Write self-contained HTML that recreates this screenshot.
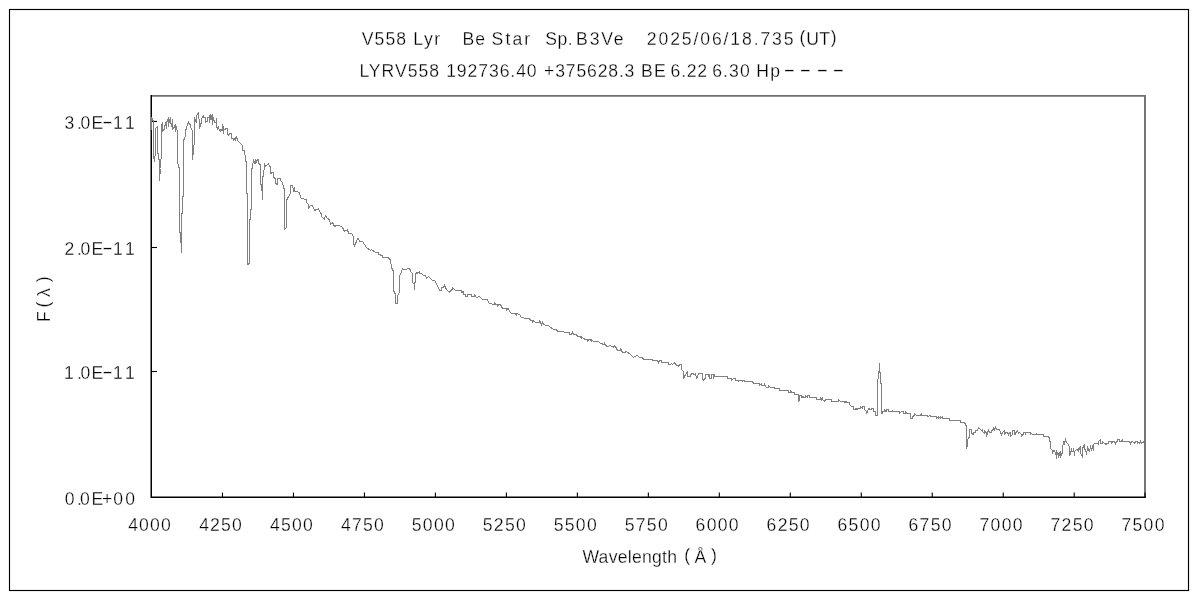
<!DOCTYPE html>
<html lang="en"><head><meta charset="utf-8"><title>V558 Lyr spectrum</title>
<style>
html,body{margin:0;padding:0;background:#fff;overflow:hidden}
svg{display:block}
text{font-family:"Liberation Sans","IPAGothic",sans-serif;fill:#000;font-size:17.6px}
</style></head><body>
<svg width="1200" height="600" viewBox="0 0 1200 600">
<rect x="0" y="0" width="1200" height="600" fill="#fff"/>
<rect x="9.5" y="9.5" width="1179" height="581" fill="none" stroke="#000" stroke-width="1.15"/>
<path d="M151.3 95.95 H1146" fill="none" stroke="#707070" stroke-width="1.7"/>
<path d="M1145 95.1 V497.2" fill="none" stroke="#757575" stroke-width="2"/>
<path d="M151.25 95.1 V497.25 H1145.9" fill="none" stroke="#000" stroke-width="1.5"/>
<g fill="none" stroke="#000" stroke-width="1.1"><path d="M151.3 121.45 h5.7"/><path d="M151.3 247.5 h5.7"/><path d="M151.3 371.5 h5.7"/><path d="M222.48 497.2 v-4.6"/><path d="M293.46 497.2 v-4.6"/><path d="M364.44 497.2 v-4.6"/><path d="M435.41 497.2 v-4.6"/><path d="M506.39 497.2 v-4.6"/><path d="M577.37 497.2 v-4.6"/><path d="M648.35 497.2 v-4.6"/><path d="M719.33 497.2 v-4.6"/><path d="M790.31 497.2 v-4.6"/><path d="M861.29 497.2 v-4.6"/><path d="M932.26 497.2 v-4.6"/><path d="M1003.24 497.2 v-4.6"/><path d="M1074.22 497.2 v-4.6"/><path d="M1145 497.2 v-4.6"/></g>
<polyline fill="none" stroke="#808080" stroke-width="1" shape-rendering="crispEdges" stroke-linejoin="miter" points="151.5,129.5 151.5,117.5 152.5,119.5 153.5,121.5 153.5,155.5 154.5,161.5 155.5,150.5 155.5,128.5 157.5,126.5 157.5,150.5 159.5,162.5 159.5,180.5 160.5,168.5 161.5,150.5 161.5,125.5 162.5,122.5 162.5,131.5 163.5,129.5 164.5,129.5 164.5,126.5 165.5,123.5 166.5,128.5 166.5,121.5 167.5,121.5 168.5,117.5 168.5,126.5 169.5,120.5 170.5,117.5 170.5,123.5 171.5,124.5 171.5,126.5 172.5,119.5 172.5,129.5 173.5,128.5 174.5,126.5 175.5,124.5 175.5,131.5 176.5,126.5 176.5,129.5 177.5,130.5 177.5,159.5 178.5,167.5 179.5,167.5 179.5,232.5 180.5,232.5 180.5,242.5 181.5,242.5 181.5,252.5 181.5,213.5 182.5,213.5 182.5,196.5 183.5,196.5 183.5,140.5 184.5,138.5 185.5,135.5 185.5,131.5 186.5,127.5 187.5,124.5 188.5,122.5 189.5,124.5 190.5,124.5 190.5,127.5 191.5,128.5 191.5,129.5 192.5,130.5 192.5,159.5 193.5,150.5 194.5,140.5 194.5,117.5 195.5,120.5 196.5,122.5 196.5,115.5 197.5,114.5 198.5,112.5 198.5,118.5 199.5,119.5 199.5,128.5 200.5,124.5 201.5,122.5 201.5,118.5 202.5,117.5 203.5,115.5 203.5,117.5 205.5,117.5 205.5,122.5 206.5,121.5 207.5,121.5 207.5,117.5 209.5,117.5 209.5,122.5 209.5,115.5 210.5,114.5 210.5,119.5 211.5,119.5 211.5,116.5 212.5,114.5 212.5,124.5 213.5,117.5 213.5,119.5 214.5,120.5 214.5,122.5 216.5,122.5 216.5,117.5 216.5,126.5 217.5,128.5 218.5,126.5 218.5,128.5 219.5,129.5 220.5,131.5 220.5,129.5 222.5,130.5 222.5,124.5 223.5,127.5 223.5,133.5 223.5,129.5 225.5,129.5 225.5,128.5 227.5,128.5 227.5,134.5 228.5,135.5 229.5,133.5 231.5,133.5 231.5,138.5 233.5,138.5 233.5,140.5 235.5,137.5 235.5,140.5 236.5,136.5 237.5,140.5 239.5,142.5 240.5,143.5 242.5,145.5 242.5,150.5 244.5,150.5 245.5,159.5 246.5,163.5 246.5,193.5 247.5,193.5 247.5,264.5 248.5,264.5 249.5,262.5 249.5,219.5 250.5,219.5 250.5,209.5 251.5,209.5 251.5,170.5 252.5,166.5 253.5,159.5 254.5,163.5 255.5,159.5 255.5,163.5 257.5,159.5 258.5,159.5 258.5,163.5 260.5,164.5 260.5,184.5 261.5,184.5 261.5,190.5 262.5,190.5 262.5,199.5 262.5,176.5 263.5,176.5 264.5,163.5 265.5,166.5 267.5,164.5 268.5,163.5 269.5,166.5 270.5,166.5 270.5,173.5 272.5,172.5 273.5,172.5 273.5,177.5 275.5,178.5 275.5,183.5 277.5,184.5 277.5,178.5 280.5,178.5 280.5,180.5 282.5,182.5 283.5,187.5 284.5,189.5 284.5,229.5 286.5,227.5 286.5,200.5 288.5,196.5 290.5,193.5 290.5,185.5 292.5,185.5 293.5,190.5 294.5,187.5 294.5,191.5 296.5,191.5 299.5,192.5 300.5,197.5 301.5,198.5 306.5,199.5 306.5,202.5 308.5,204.5 308.5,208.5 310.5,205.5 312.5,205.5 314.5,210.5 316.5,209.5 318.5,209.5 318.5,208.5 320.5,213.5 321.5,213.5 321.5,216.5 324.5,219.5 325.5,215.5 327.5,218.5 329.5,219.5 330.5,224.5 332.5,222.5 334.5,226.5 336.5,225.5 339.5,225.5 342.5,227.5 344.5,231.5 347.5,229.5 348.5,233.5 351.5,233.5 353.5,236.5 353.5,243.5 354.5,245.5 356.5,241.5 357.5,238.5 358.5,238.5 359.5,241.5 362.5,241.5 364.5,244.5 366.5,247.5 370.5,250.5 371.5,249.5 375.5,252.5 378.5,252.5 378.5,254.5 382.5,255.5 382.5,257.5 388.5,257.5 389.5,259.5 390.5,259.5 391.5,267.5 393.5,271.5 393.5,290.5 395.5,294.5 395.5,303.5 397.5,303.5 397.5,295.5 399.5,292.5 399.5,276.5 401.5,271.5 402.5,268.5 403.5,269.5 406.5,269.5 407.5,268.5 408.5,268.5 410.5,269.5 410.5,271.5 412.5,273.5 412.5,282.5 414.5,284.5 414.5,289.5 414.5,284.5 415.5,280.5 415.5,273.5 417.5,272.5 417.5,273.5 419.5,271.5 419.5,273.5 421.5,273.5 423.5,275.5 425.5,275.5 426.5,278.5 428.5,276.5 430.5,278.5 432.5,280.5 434.5,280.5 436.5,283.5 439.5,290.5 441.5,290.5 441.5,287.5 443.5,287.5 444.5,285.5 445.5,287.5 446.5,289.5 449.5,292.5 450.5,290.5 452.5,289.5 452.5,287.5 454.5,289.5 455.5,290.5 461.5,290.5 461.5,292.5 463.5,291.5 463.5,294.5 465.5,294.5 465.5,296.5 467.5,296.5 467.5,294.5 471.5,294.5 471.5,296.5 474.5,296.5 474.5,294.5 475.5,296.5 476.5,297.5 479.5,296.5 482.5,299.5 487.5,299.5 488.5,302.5 489.5,303.5 494.5,304.5 494.5,302.5 495.5,304.5 497.5,304.5 497.5,306.5 498.5,304.5 500.5,304.5 502.5,308.5 506.5,308.5 506.5,310.5 507.5,308.5 508.5,308.5 509.5,311.5 511.5,313.5 515.5,313.5 516.5,315.5 516.5,313.5 519.5,314.5 521.5,317.5 523.5,317.5 524.5,318.5 529.5,318.5 530.5,320.5 532.5,320.5 532.5,322.5 533.5,320.5 535.5,322.5 539.5,322.5 539.5,320.5 540.5,322.5 541.5,324.5 542.5,322.5 543.5,324.5 546.5,325.5 548.5,325.5 550.5,327.5 552.5,328.5 553.5,329.5 556.5,329.5 557.5,331.5 563.5,331.5 564.5,332.5 569.5,332.5 569.5,334.5 571.5,334.5 571.5,332.5 571.5,334.5 572.5,332.5 573.5,334.5 576.5,334.5 577.5,336.5 580.5,336.5 581.5,338.5 581.5,336.5 583.5,338.5 585.5,339.5 587.5,339.5 587.5,341.5 588.5,339.5 590.5,339.5 591.5,341.5 591.5,339.5 593.5,341.5 598.5,341.5 600.5,343.5 604.5,344.5 604.5,342.5 605.5,345.5 607.5,346.5 610.5,345.5 613.5,347.5 614.5,345.5 615.5,346.5 617.5,350.5 620.5,350.5 620.5,348.5 621.5,350.5 622.5,352.5 624.5,352.5 626.5,351.5 630.5,354.5 633.5,357.5 636.5,355.5 637.5,355.5 639.5,357.5 642.5,357.5 643.5,359.5 651.5,359.5 653.5,360.5 657.5,360.5 658.5,362.5 659.5,360.5 661.5,360.5 661.5,362.5 668.5,362.5 668.5,364.5 670.5,364.5 671.5,363.5 672.5,364.5 674.5,362.5 675.5,364.5 677.5,365.5 678.5,366.5 679.5,364.5 681.5,364.5 681.5,369.5 683.5,371.5 683.5,378.5 684.5,376.5 685.5,374.5 687.5,371.5 687.5,376.5 690.5,376.5 690.5,374.5 692.5,373.5 694.5,374.5 695.5,373.5 696.5,378.5 697.5,377.5 698.5,373.5 702.5,373.5 702.5,379.5 703.5,380.5 704.5,378.5 705.5,378.5 705.5,374.5 708.5,374.5 708.5,376.5 709.5,374.5 709.5,378.5 711.5,378.5 711.5,374.5 713.5,374.5 713.5,378.5 714.5,374.5 714.5,376.5 727.5,376.5 727.5,378.5 731.5,378.5 731.5,380.5 733.5,378.5 735.5,378.5 735.5,380.5 738.5,380.5 738.5,381.5 739.5,380.5 742.5,380.5 742.5,381.5 743.5,380.5 744.5,380.5 744.5,381.5 752.5,381.5 753.5,383.5 759.5,383.5 759.5,385.5 761.5,383.5 761.5,385.5 764.5,385.5 764.5,383.5 765.5,386.5 766.5,387.5 768.5,387.5 768.5,385.5 770.5,387.5 774.5,387.5 774.5,388.5 779.5,388.5 779.5,390.5 788.5,390.5 788.5,392.5 790.5,392.5 790.5,390.5 791.5,392.5 794.5,392.5 794.5,394.5 798.5,394.5 798.5,401.5 799.5,399.5 799.5,395.5 801.5,395.5 801.5,397.5 803.5,396.5 803.5,397.5 805.5,397.5 805.5,395.5 807.5,397.5 807.5,395.5 809.5,395.5 809.5,397.5 816.5,397.5 816.5,399.5 820.5,399.5 820.5,397.5 821.5,399.5 822.5,397.5 822.5,399.5 824.5,401.5 825.5,399.5 831.5,399.5 831.5,401.5 838.5,401.5 838.5,399.5 840.5,401.5 844.5,401.5 844.5,402.5 846.5,401.5 846.5,402.5 849.5,402.5 849.5,404.5 851.5,406.5 853.5,406.5 853.5,409.5 855.5,409.5 855.5,408.5 857.5,409.5 857.5,408.5 860.5,408.5 860.5,406.5 862.5,408.5 862.5,406.5 864.5,406.5 864.5,409.5 866.5,411.5 866.5,413.5 867.5,411.5 868.5,408.5 870.5,409.5 872.5,408.5 873.5,408.5 873.5,411.5 875.5,411.5 875.5,415.5 877.5,415.5 877.5,379.5 878.5,378.5 878.5,371.5 879.5,371.5 879.5,362.5 879.5,372.5 880.5,372.5 880.5,383.5 881.5,383.5 881.5,413.5 882.5,413.5 882.5,411.5 884.5,411.5 884.5,409.5 885.5,411.5 886.5,411.5 886.5,409.5 888.5,409.5 888.5,411.5 892.5,411.5 892.5,409.5 892.5,411.5 899.5,411.5 899.5,413.5 901.5,411.5 903.5,411.5 903.5,413.5 905.5,413.5 905.5,411.5 906.5,413.5 910.5,413.5 910.5,418.5 912.5,418.5 912.5,416.5 914.5,415.5 914.5,413.5 915.5,414.5 916.5,415.5 920.5,415.5 921.5,413.5 921.5,415.5 927.5,415.5 927.5,416.5 930.5,415.5 930.5,416.5 936.5,416.5 936.5,418.5 938.5,416.5 938.5,418.5 940.5,416.5 940.5,418.5 942.5,416.5 942.5,418.5 949.5,418.5 949.5,420.5 960.5,420.5 960.5,422.5 964.5,422.5 965.5,424.5 966.5,426.5 966.5,448.5 967.5,444.5 967.5,439.5 968.5,438.5 969.5,436.5 969.5,429.5 971.5,429.5 971.5,433.5 973.5,434.5 973.5,432.5 975.5,432.5 975.5,430.5 977.5,430.5 978.5,427.5 980.5,429.5 981.5,430.5 982.5,429.5 982.5,431.5 984.5,433.5 984.5,430.5 985.5,432.5 986.5,432.5 986.5,436.5 987.5,432.5 988.5,430.5 989.5,432.5 991.5,432.5 991.5,430.5 993.5,429.5 993.5,427.5 994.5,429.5 995.5,427.5 996.5,429.5 999.5,429.5 1000.5,432.5 1001.5,434.5 1002.5,432.5 1004.5,430.5 1004.5,434.5 1005.5,432.5 1007.5,432.5 1008.5,434.5 1009.5,432.5 1010.5,432.5 1010.5,436.5 1012.5,434.5 1012.5,430.5 1014.5,430.5 1014.5,434.5 1015.5,432.5 1015.5,434.5 1016.5,431.5 1017.5,430.5 1018.5,433.5 1019.5,432.5 1021.5,434.5 1021.5,436.5 1022.5,434.5 1023.5,434.5 1023.5,432.5 1025.5,432.5 1025.5,434.5 1025.5,432.5 1030.5,432.5 1030.5,434.5 1030.5,432.5 1032.5,434.5 1036.5,434.5 1036.5,432.5 1036.5,434.5 1043.5,434.5 1043.5,436.5 1047.5,436.5 1049.5,437.5 1049.5,441.5 1050.5,441.5 1050.5,448.5 1052.5,450.5 1052.5,453.5 1053.5,450.5 1054.5,450.5 1055.5,453.5 1056.5,450.5 1056.5,458.5 1057.5,452.5 1058.5,453.5 1058.5,457.5 1059.5,453.5 1060.5,451.5 1060.5,457.5 1061.5,453.5 1062.5,453.5 1062.5,445.5 1063.5,444.5 1063.5,441.5 1064.5,443.5 1065.5,439.5 1066.5,442.5 1067.5,443.5 1069.5,446.5 1069.5,455.5 1070.5,453.5 1071.5,448.5 1071.5,451.5 1073.5,451.5 1073.5,448.5 1074.5,455.5 1074.5,451.5 1076.5,449.5 1077.5,450.5 1078.5,448.5 1078.5,451.5 1079.5,447.5 1080.5,446.5 1080.5,453.5 1081.5,454.5 1082.5,457.5 1082.5,449.5 1083.5,445.5 1084.5,444.5 1084.5,448.5 1085.5,450.5 1086.5,453.5 1087.5,449.5 1087.5,446.5 1088.5,450.5 1089.5,451.5 1090.5,446.5 1091.5,449.5 1092.5,446.5 1093.5,450.5 1093.5,444.5 1094.5,443.5 1097.5,443.5 1098.5,444.5 1098.5,441.5 1100.5,439.5 1100.5,443.5 1102.5,443.5 1102.5,441.5 1104.5,443.5 1106.5,444.5 1106.5,443.5 1108.5,443.5 1108.5,441.5 1111.5,441.5 1111.5,443.5 1112.5,441.5 1114.5,441.5 1115.5,443.5 1116.5,441.5 1117.5,441.5 1117.5,439.5 1119.5,439.5 1119.5,441.5 1121.5,441.5 1122.5,439.5 1122.5,441.5 1129.5,441.5 1130.5,443.5 1131.5,441.5 1132.5,441.5 1134.5,443.5 1135.5,441.5 1137.5,441.5 1137.5,443.5 1138.5,442.5 1139.5,443.5 1140.5,441.5 1141.5,443.5 1142.5,442.5 1144.5,441.5"/>
<text y="44.6" stroke="#fff" stroke-width="0.28"><tspan x="361.81" textLength="44.21" lengthAdjust="spacing">V558</tspan> <tspan x="413.19" textLength="27.03" lengthAdjust="spacing">Lyr</tspan> <tspan x="462.39" textLength="22.72" lengthAdjust="spacing">Be</tspan> <tspan x="491.61" textLength="38.61" lengthAdjust="spacing">Star</tspan> <tspan x="545.31" textLength="27.33" lengthAdjust="spacing">Sp.</tspan> <tspan x="576.09" textLength="47.52" lengthAdjust="spacing">B3Ve</tspan> <tspan x="646.82" textLength="146.7" lengthAdjust="spacing">2025/06/18.735</tspan> <tspan x="799.44 806.18 819.26 830.82" dy="-1.6 1.6 0 -1.6">(UT)</tspan></text>
<text y="76.8" stroke="#fff" stroke-width="0.28"><tspan x="359.39" textLength="79.73" lengthAdjust="spacing">LYRV558</tspan> <tspan x="446.18" textLength="90.44" lengthAdjust="spacing">192736.40</tspan> <tspan x="544.12" textLength="90.29" lengthAdjust="spacing">+375628.3</tspan> <tspan x="640.89" textLength="24.85" lengthAdjust="spacing">BE</tspan> <tspan x="670.62" textLength="36.48" lengthAdjust="spacing">6.22</tspan> <tspan x="712.22" textLength="37.6" lengthAdjust="spacing">6.30</tspan> <tspan x="756.29" textLength="23.83" lengthAdjust="spacing">Hp</tspan> <tspan x="783.35" dy="-0.8" textLength="12.23" lengthAdjust="spacingAndGlyphs">-</tspan> <tspan x="799.35" textLength="12.23" lengthAdjust="spacingAndGlyphs">-</tspan> <tspan x="816.35" textLength="12.23" lengthAdjust="spacingAndGlyphs">-</tspan> <tspan x="832.35" textLength="12.23" lengthAdjust="spacingAndGlyphs">-</tspan></text>
<text y="128.7" stroke="#fff" stroke-width="0.28"><tspan x="64.6 77.12 80.6 91.59">3.0E</tspan><tspan x="101.76" dy="-0.9" textLength="11.4" lengthAdjust="spacingAndGlyphs">-</tspan><tspan x="113.1 125.1" dy="0.9 0">11</tspan></text>
<text y="255" stroke="#fff" stroke-width="0.28"><tspan x="64.42 77.12 80.6 91.59">2.0E</tspan><tspan x="101.76" dy="-0.9" textLength="11.4" lengthAdjust="spacingAndGlyphs">-</tspan><tspan x="113.1 125.1" dy="0.9 0">11</tspan></text>
<text y="378.7" stroke="#fff" stroke-width="0.28"><tspan x="63.98 77.12 80.6 91.59">1.0E</tspan><tspan x="101.76" dy="-0.9" textLength="11.4" lengthAdjust="spacingAndGlyphs">-</tspan><tspan x="113.1 125.1" dy="0.9 0">11</tspan></text>
<text x="64.8 76.92 80.1 91.59 102.12 113.3 125.3" y="505" stroke="#fff" stroke-width="0.28">0.0E+00</text>
<text x="128.16" y="530.8" textLength="42.66" lengthAdjust="spacing" stroke="#fff" stroke-width="0.28">4000</text>
<text x="199.14" y="530.8" textLength="42.66" lengthAdjust="spacing" stroke="#fff" stroke-width="0.28">4250</text>
<text x="270.12" y="530.8" textLength="42.66" lengthAdjust="spacing" stroke="#fff" stroke-width="0.28">4500</text>
<text x="341.1" y="530.8" textLength="42.66" lengthAdjust="spacing" stroke="#fff" stroke-width="0.28">4750</text>
<text x="411.81" y="530.8" textLength="42.93" lengthAdjust="spacing" stroke="#fff" stroke-width="0.28">5000</text>
<text x="482.79" y="530.8" textLength="42.93" lengthAdjust="spacing" stroke="#fff" stroke-width="0.28">5250</text>
<text x="553.77" y="530.8" textLength="42.93" lengthAdjust="spacing" stroke="#fff" stroke-width="0.28">5500</text>
<text x="624.75" y="530.8" textLength="42.93" lengthAdjust="spacing" stroke="#fff" stroke-width="0.28">5750</text>
<text x="695.55" y="530.8" textLength="43.1" lengthAdjust="spacing" stroke="#fff" stroke-width="0.28">6000</text>
<text x="766.53" y="530.8" textLength="43.1" lengthAdjust="spacing" stroke="#fff" stroke-width="0.28">6250</text>
<text x="837.51" y="530.8" textLength="43.1" lengthAdjust="spacing" stroke="#fff" stroke-width="0.28">6500</text>
<text x="908.48" y="530.8" textLength="43.1" lengthAdjust="spacing" stroke="#fff" stroke-width="0.28">6750</text>
<text x="979.46" y="530.8" textLength="43.1" lengthAdjust="spacing" stroke="#fff" stroke-width="0.28">7000</text>
<text x="1050.44" y="530.8" textLength="43.1" lengthAdjust="spacing" stroke="#fff" stroke-width="0.28">7250</text>
<text x="1121.42" y="530.8" textLength="43.1" lengthAdjust="spacing" stroke="#fff" stroke-width="0.28">7500</text>
<text y="562.5" stroke="#fff" stroke-width="0.28"><tspan x="582.41" textLength="94.55" lengthAdjust="spacing">Wavelength</tspan> <tspan x="684.14 694.61 711.02" dy="-1.3 1.3 -1.3">(Å)</tspan></text>
<text transform="translate(50 320.7) rotate(-90)" x="-1.41 13.14 23.82 38.52" y="0 -1.3 0 -1.3" stroke="#fff" stroke-width="0.28">F(λ)</text>
</svg></body></html>
